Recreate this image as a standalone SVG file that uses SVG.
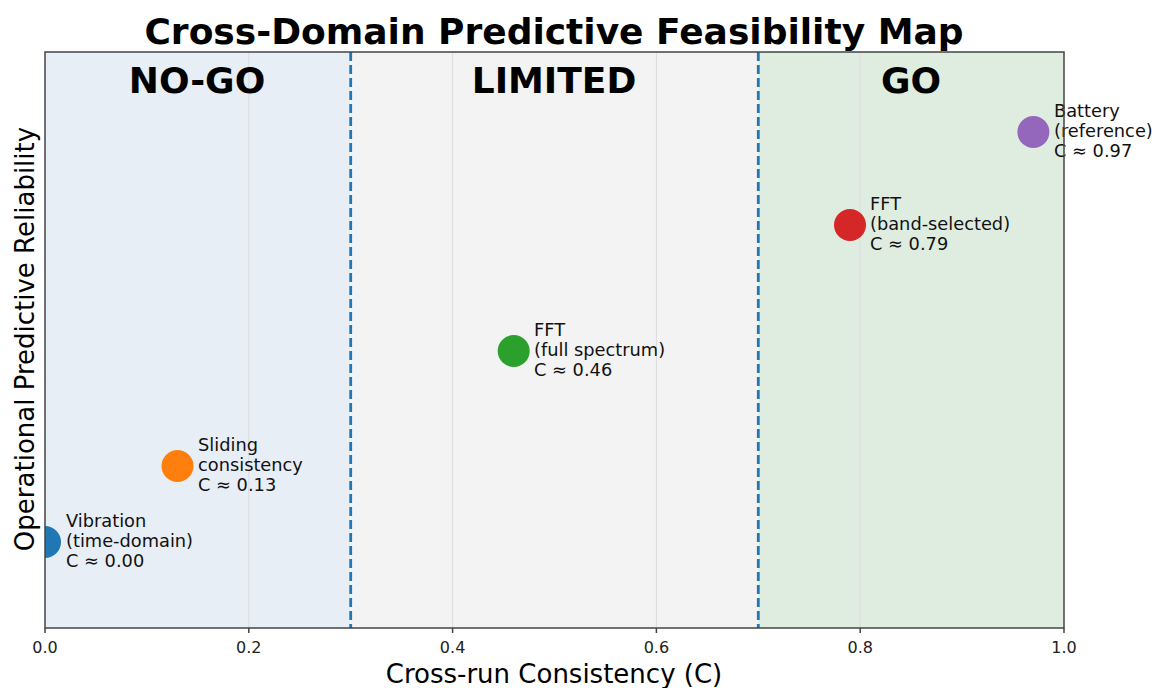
<svg xmlns="http://www.w3.org/2000/svg" width="1158" height="688" viewBox="0 0 1158 688">
<style>
text{font-family:"DejaVu Sans","Liberation Sans",sans-serif;fill:#000}
.zone{font-size:36px;font-weight:bold;text-anchor:middle}
.lbl{font-size:17.8px;fill:#111}
.tick{font-size:16px;text-anchor:middle;fill:#222}
.grid{stroke:#dcdcdc;stroke-width:1}
.thr{stroke:#1f77b4;stroke-width:2.8;stroke-dasharray:9,4}
</style>
<defs><clipPath id="ax"><rect x="45" y="52" width="1019" height="576"/></clipPath></defs>
<rect width="1158" height="688" fill="#fff"/>
<text x="554" y="44" font-size="36" font-weight="bold" text-anchor="middle">Cross-Domain Predictive Feasibility Map</text>
<g id="zones">
<rect x="45" y="52" width="305.7" height="576" fill="#e7eef5"/>
<rect x="350.7" y="52" width="407.6" height="576" fill="#f3f3f3"/>
<rect x="758.3" y="52" width="305.7" height="576" fill="#dfede0"/>
</g>
<g id="grid">
<line class="grid" x1="248.8" y1="52" x2="248.8" y2="628"/>
<line class="grid" x1="452.6" y1="52" x2="452.6" y2="628"/>
<line class="grid" x1="656.4" y1="52" x2="656.4" y2="628"/>
<line class="grid" x1="860.2" y1="52" x2="860.2" y2="628"/>
</g>
<g id="connectors">
<line class="thr" x1="350.7" y1="52" x2="350.7" y2="628"/>
<line class="thr" x1="758.3" y1="52" x2="758.3" y2="628"/>
</g>
<text class="zone" x="197" y="93">NO-GO</text>
<text class="zone" x="554" y="93">LIMITED</text>
<text class="zone" x="911" y="93">GO</text>
<g clip-path="url(#ax)">
<g id="vibration"><circle cx="45" cy="542" r="16" fill="#1f77b4"/></g>
<g id="sliding"><circle cx="177.5" cy="466" r="16" fill="#ff7f0e"/></g>
<g id="fft-full"><circle cx="513.7" cy="351" r="16" fill="#2ca02c"/></g>
<g id="fft-band"><circle cx="850" cy="225" r="16" fill="#d62728"/></g>
<g id="battery"><circle cx="1033.4" cy="132" r="16" fill="#9467bd"/></g>
</g>
<g id="labels">
<text class="lbl" x="66" y="527">Vibration</text>
<text class="lbl" x="66" y="547">(time-domain)</text>
<text class="lbl" x="66" y="567">C ≈ 0.00</text>
<text class="lbl" x="198" y="451">Sliding</text>
<text class="lbl" x="198" y="471">consistency</text>
<text class="lbl" x="198" y="491">C ≈ 0.13</text>
<text class="lbl" x="534" y="336">FFT</text>
<text class="lbl" x="534" y="356">(full spectrum)</text>
<text class="lbl" x="534" y="376">C ≈ 0.46</text>
<text class="lbl" x="870" y="210">FFT</text>
<text class="lbl" x="870" y="230">(band-selected)</text>
<text class="lbl" x="870" y="250">C ≈ 0.79</text>
<text class="lbl" x="1054" y="117">Battery</text>
<text class="lbl" x="1054" y="137">(reference)</text>
<text class="lbl" x="1054" y="157">C ≈ 0.97</text>
</g>
<g id="axes" stroke="#444" stroke-width="1.5" fill="none">
<rect x="45" y="52" width="1019" height="576"/>
<line x1="45" y1="628" x2="45" y2="633"/>
<line x1="248.8" y1="628" x2="248.8" y2="633"/>
<line x1="452.6" y1="628" x2="452.6" y2="633"/>
<line x1="656.4" y1="628" x2="656.4" y2="633"/>
<line x1="860.2" y1="628" x2="860.2" y2="633"/>
<line x1="1064" y1="628" x2="1064" y2="633"/>
</g>
<text class="tick" x="45" y="653">0.0</text>
<text class="tick" x="248.8" y="653">0.2</text>
<text class="tick" x="452.6" y="653">0.4</text>
<text class="tick" x="656.4" y="653">0.6</text>
<text class="tick" x="860.2" y="653">0.8</text>
<text class="tick" x="1064" y="653">1.0</text>
<text x="554" y="683" font-size="26" text-anchor="middle" fill="#222">Cross-run Consistency (C)</text>
<text transform="translate(34,339) rotate(-90)" font-size="26" text-anchor="middle" fill="#222">Operational Predictive Reliability</text>
</svg>
